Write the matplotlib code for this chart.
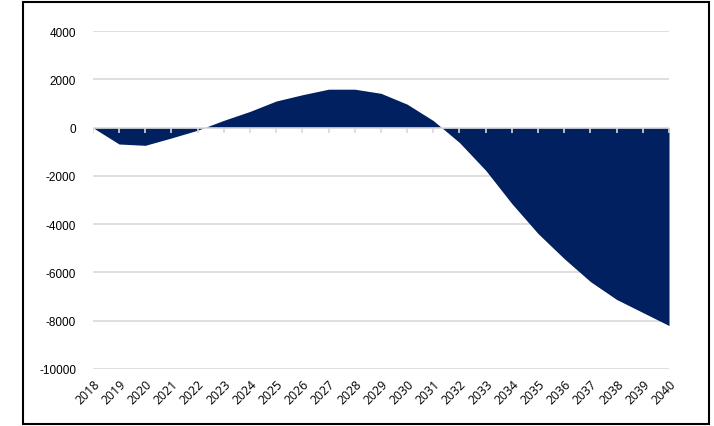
import matplotlib.pyplot as plt
from matplotlib.patches import Rectangle

years = [str(y) for y in range(2018, 2041)]
values = [0, -680, -735, -430, -110, 300, 670, 1100, 1360, 1590, 1590, 1420,
          970, 290, -620, -1770, -3150, -4390, -5430, -6380, -7120, -7660, -8200]
yticks = [-10000, -8000, -6000, -4000, -2000, 0, 2000, 4000]

navy = '#002060'
grey = '#d9d9d9'

fig = plt.figure(figsize=(7.14, 4.27), dpi=100)
ax = fig.add_axes([0.130, 0.1335, 0.807, 0.7915])

x = list(range(len(years)))
ax.fill_between(x, values, 0, color=navy, linewidth=0, zorder=2)

# gridlines under the area, zero axis on top
for v in yticks:
    if v != 0:
        ax.axhline(v, color=grey, lw=1.2, zorder=1)
ax.axhline(0, color=grey, lw=1.2, zorder=3)
ax.plot(x, [0] * len(x), linestyle='none', marker=3, markersize=3.5,
        markeredgewidth=1.2, color=grey, zorder=3)

ax.set_xlim(0, len(years) - 1)
ax.set_ylim(-10000, 4000)
ax.set_yticks(yticks)
ax.set_yticklabels([str(v) for v in yticks], fontsize=8.5, family='Liberation Sans')
ax.set_xticks(x)
ax.set_xticklabels(years, rotation=45, ha='right', rotation_mode='anchor',
                   fontsize=8.8, family='Open Sans')
ax.tick_params(axis='y', length=0, pad=12)
ax.tick_params(axis='x', length=0, pad=6)
for s in ax.spines.values():
    s.set_visible(False)

fig.patches.append(Rectangle((23 / 714, 2 / 427), 686 / 714, 422 / 427,
                             transform=fig.transFigure, fill=False,
                             edgecolor='black', linewidth=1.5))

fig.savefig('out.png', dpi=100)
